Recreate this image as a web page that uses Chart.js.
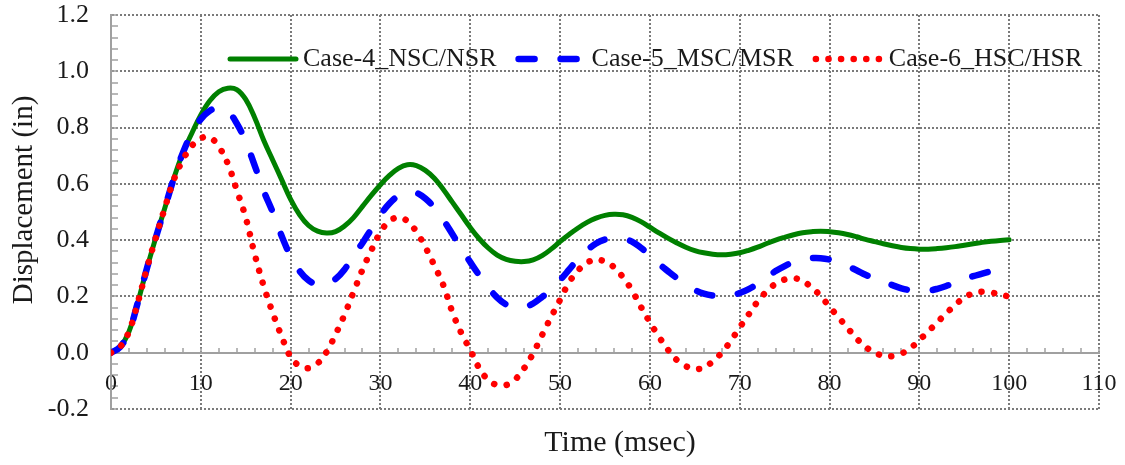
<!DOCTYPE html>
<html lang="en">
  <head>
    <meta charset="UTF-8" />
    <title>Displacement vs Time</title>
    <script src="https://cdn.jsdelivr.net/npm/chart.js@4"></script>
    <style>
      html,
      body {
        margin: 0;
        padding: 0;
        background: #ffffff;
      }

      #wrap {
        width: 1125px;
        height: 465px;
        position: relative;
      }
    </style>
  </head>
  <body>
    <div id="wrap"><canvas id="chart"></canvas></div>

    <script>
      // time in msec
      const time = [
        0, 1, 2, 3, 4, 5, 6, 7, 8, 9, 10, 11, 12, 13, 14, 15, 16, 17, 18, 19,
        20, 21, 22, 23, 24, 25, 26, 27, 28, 29, 30, 31, 32, 33, 34, 35, 36, 37, 38, 39,
        40, 41, 42, 43, 44, 45, 46, 47, 48, 49, 50, 51, 52, 53, 54, 55, 56, 57, 58, 59,
        60, 61, 62, 63, 64, 65, 66, 67, 68, 69, 70, 71, 72, 73, 74, 75, 76, 77, 78, 79,
        80, 81, 82, 83, 84, 85, 86, 87, 88, 89, 90, 91, 92, 93, 94, 95, 96, 97, 98, 99,
        100
      ]

      // displacement in inches
      const case4 = [
        0, 0.02, 0.075, 0.18, 0.3, 0.41, 0.515, 0.62, 0.71, 0.78,
        0.845, 0.895, 0.927, 0.94, 0.935, 0.9, 0.835, 0.755, 0.685, 0.615,
        0.545, 0.49, 0.452, 0.432, 0.425, 0.43, 0.45, 0.48, 0.52, 0.56,
        0.597, 0.63, 0.655, 0.668, 0.665, 0.648, 0.62, 0.58, 0.535, 0.49,
        0.445, 0.405, 0.372, 0.347, 0.332, 0.325, 0.324, 0.33, 0.345, 0.368,
        0.395, 0.42, 0.443, 0.463, 0.478, 0.488, 0.492, 0.49, 0.481, 0.466,
        0.446, 0.426, 0.407, 0.39, 0.375, 0.363, 0.355, 0.35, 0.348, 0.35,
        0.355, 0.364, 0.375, 0.388, 0.4, 0.41, 0.419, 0.426, 0.43, 0.432,
        0.43, 0.426, 0.42, 0.412, 0.403, 0.395, 0.387, 0.38, 0.374, 0.37,
        0.368, 0.368, 0.37, 0.373, 0.377, 0.382, 0.387, 0.392, 0.396, 0.399,
        0.401
      ]
      const case5 = [
        0, 0.02, 0.075, 0.18, 0.3, 0.41, 0.515, 0.62, 0.71, 0.78,
        0.83, 0.86, 0.87, 0.858, 0.815, 0.75, 0.665, 0.575, 0.5, 0.415,
        0.343, 0.29, 0.257, 0.242, 0.243, 0.262, 0.296, 0.345, 0.39, 0.44,
        0.49, 0.53, 0.558, 0.572, 0.568, 0.548, 0.515, 0.472, 0.422, 0.37,
        0.322, 0.275, 0.232, 0.196, 0.171, 0.16, 0.162, 0.175, 0.198, 0.225,
        0.258, 0.295, 0.333, 0.364, 0.388, 0.402, 0.408, 0.405, 0.395, 0.373,
        0.345, 0.316, 0.29, 0.265, 0.242, 0.223, 0.21, 0.203, 0.2, 0.203,
        0.212, 0.226, 0.245, 0.268, 0.29, 0.308, 0.322, 0.331, 0.336, 0.336,
        0.331, 0.321, 0.308, 0.293, 0.277, 0.263, 0.252, 0.24, 0.229, 0.222,
        0.218, 0.22, 0.227, 0.237, 0.25, 0.262, 0.272, 0.281, 0.29, 0.298,
        0.305
      ]
      const case6 = [
        0, 0.02, 0.075, 0.18, 0.3, 0.41, 0.515, 0.615, 0.685, 0.735,
        0.762, 0.765, 0.732, 0.672, 0.578, 0.48, 0.35, 0.237, 0.142, 0.058,
        -0.015, -0.047, -0.055, -0.038, 0.003, 0.065, 0.135, 0.215, 0.295, 0.365,
        0.428, 0.468, 0.48, 0.468, 0.43, 0.375, 0.31, 0.24, 0.145, 0.07,
        0.01, -0.055, -0.097, -0.115, -0.115, -0.095, -0.055, -0.002, 0.063, 0.127,
        0.188, 0.25, 0.292, 0.32, 0.33, 0.324, 0.304, 0.268, 0.222, 0.163,
        0.108, 0.057, 0.011, -0.026, -0.048, -0.057, -0.054, -0.03, 0, 0.042,
        0.09, 0.136, 0.182, 0.218, 0.245, 0.26, 0.265, 0.255, 0.232, 0.202,
        0.163, 0.126, 0.088, 0.051, 0.021, 0.001, -0.011, -0.012, -0.003, 0.016,
        0.045, 0.076, 0.108, 0.14, 0.17, 0.196, 0.211, 0.217, 0.214, 0.206,
        0.2
      ]

      const seriesNames = ['Case-4_NSC/NSR', 'Case-5_MSC/MSR', 'Case-6_HSC/HSR']
      const xLabels = [0, 10, 20, 30, 40, 50, 60, 70, 80, 90, 100, 110]
      const yLabels = [-0.2, 0, 0.2, 0.4, 0.6, 0.8, 1.0, 1.2]
      const xTitle = 'Time (msec)'
      const yTitle = 'Displacement (in)'

      const serif = '"Liberation Serif", "Times New Roman", serif'
      const textColor = '#1a1a1a'
      const gridColor = '#7a7a7a'
      const axisColor = '#a0a0a0'

      function points(values) {
        return time.map((t, i) => ({ x: t, y: values[i] }))
      }

      function isYMajor(v) {
        return yLabels.some(l => Math.abs(l - v) < 1e-6)
      }

      // labels hang off the axis, they should not shrink the plot area
      function noEdgePadding(s) {
        s.paddingTop = 0
        s.paddingBottom = 0
        s.paddingLeft = 0
        s.paddingRight = 0
      }

      // legend drawn inside the plot, top row
      const insideLegend = {
        id: 'insideLegend',
        afterDatasetsDraw(chart) {
          const ctx = chart.ctx
          const y = chart.chartArea.top + 44
          let x = chart.chartArea.left + 119
          ctx.save()
          ctx.font = `26px ${serif}`
          ctx.textBaseline = 'middle'
          ctx.fillStyle = textColor
          chart.data.datasets.forEach(ds => {
            ctx.save()
            ctx.strokeStyle = ds.borderColor
            ctx.lineWidth = ds.borderWidth
            ctx.setLineDash(ds.borderDash || [])
            ctx.lineCap = ds.borderCapStyle || 'butt'
            ctx.beginPath()
            ctx.moveTo(x, y)
            ctx.lineTo(x + 66, y)
            ctx.stroke()
            ctx.restore()
            ctx.fillText(ds.label, x + 73, y)
            x += 73 + ctx.measureText(ds.label).width + 22
          })
          ctx.restore()
        },
      }

      const axisTitles = {
        id: 'axisTitles',
        afterDraw(chart) {
          const { ctx, chartArea } = chart
          ctx.save()
          ctx.font = `30px ${serif}`
          ctx.fillStyle = textColor
          ctx.textAlign = 'center'
          ctx.textBaseline = 'middle'
          ctx.fillText(
            xTitle,
            (chartArea.left + chartArea.right) / 2 + 15,
            chartArea.bottom + 34
          )
          ctx.font = `29px ${serif}`
          ctx.translate(24, (chartArea.top + chartArea.bottom) / 2 - 12)
          ctx.rotate(-Math.PI / 2)
          ctx.fillText(yTitle, 0, 0)
          ctx.restore()
        },
      }

      const ctx = document.getElementById('chart').getContext('2d')
      new Chart(ctx, {
        type: 'line',
        data: {
          datasets: [
            {
              label: seriesNames[0],
              data: points(case4),
              borderColor: '#008000',
              borderWidth: 5,
              borderCapStyle: 'round',
              order: 2,
            },
            {
              label: seriesNames[1],
              data: points(case5),
              borderColor: '#0000ff',
              borderWidth: 6.5,
              borderDash: [16, 26],
              borderCapStyle: 'round',
              order: 1,
            },
            {
              label: seriesNames[2],
              data: points(case6),
              borderColor: '#ff0000',
              borderWidth: 6.5,
              borderDash: [0.1, 12.5],
              borderCapStyle: 'round',
              order: 0,
            },
          ],
        },
        options: {
          responsive: true,
          maintainAspectRatio: false,
          animation: false,
          events: [],
          layout: {
            padding: { top: 15, right: 26, bottom: 56, left: 0 },
          },
          elements: {
            point: { radius: 0 },
            line: { tension: 0.4 },
          },
          plugins: {
            legend: { display: false },
            tooltip: { enabled: false },
          },
          scales: {
            x: {
              type: 'linear',
              position: { y: 0 },
              min: 0,
              max: 110,
              afterFit: noEdgePadding,
              ticks: {
                stepSize: 2,
                autoSkip: false,
                maxRotation: 0,
                padding: 23,
                color: textColor,
                font: { family: serif, size: 24 },
                callback: v => (xLabels.includes(v) ? String(v) : ''),
              },
              grid: {
                color: c =>
                  c.tick && xLabels.includes(c.tick.value)
                    ? gridColor
                    : 'rgba(0,0,0,0)',
                lineWidth: 2,
                tickLength: -6,
                tickColor: axisColor,
                tickWidth: 1.5,
              },
              border: { color: axisColor, width: 2, dash: [2, 2] },
            },
            y: {
              type: 'linear',
              min: -0.2,
              max: 1.2,
              afterFit: s => {
                s.width = 111
                noEdgePadding(s)
              },
              ticks: {
                stepSize: 0.04,
                autoSkip: false,
                padding: 29,
                color: textColor,
                font: { family: serif, size: 26 },
                callback: v => (isYMajor(v) ? v.toFixed(1) : ''),
              },
              grid: {
                color: c =>
                  c.tick && isYMajor(c.tick.value) ? gridColor : 'rgba(0,0,0,0)',
                lineWidth: 2,
                tickLength: -7,
                tickColor: axisColor,
                tickWidth: 1.5,
              },
              border: { color: axisColor, width: 2, dash: [2, 2] },
            },
          },
        },
        plugins: [insideLegend, axisTitles],
      })
    </script>
  </body>
</html>
